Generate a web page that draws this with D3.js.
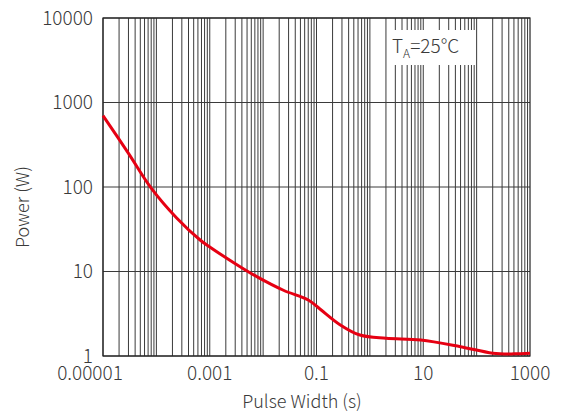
<!DOCTYPE html>
<html>
<head>
<meta charset="utf-8">
<script src="https://cdn.jsdelivr.net/npm/d3@7"></script>
<style>
  body { margin: 0; background: #fff; }
  svg text { font-family: "Noto Sans CJK SC", "Noto Sans", sans-serif; font-weight: 300; fill: #3a3a3a; }
</style>
</head>
<body>
<svg width="569" height="416"></svg>
<script>
// pulse width (s) vs peak power (W)
var pulseWidth = [1e-5, 3e-5, 8e-5, 2.4e-4, 6.6e-4, 1e-3, 3.7e-3, 7.6e-3, 0.024, 0.07, 0.116, 0.275, 0.65, 2, 9, 50, 200, 500, 1000];
var power = [700, 250, 97, 43, 23.6, 19.5, 11.4, 8.7, 6.0, 4.6, 3.6, 2.35, 1.77, 1.62, 1.55, 1.29, 1.08, 1.06, 1.08];

var xTicks = [1e-5, 1e-3, 1e-1, 10, 1000];
var xTickLabels = ["0.00001", "0.001", "0.1", "10", "1000"];
var yTicks = [1, 10, 100, 1000, 10000];
var yTickLabels = ["1", "10", "100", "1000", "10000"];

var svg = d3.select("svg");

var plotL = 103, plotR = 530, plotT = 18, plotB = 356;

var x = d3.scaleLog().domain([1e-5, 1000]).range([plotL, plotR]);
var y = d3.scaleLog().domain([1, 10000]).range([plotB, plotT]);

//  vertical grid at every 1..9 step of each decade
var minor = [];
for (var e = -5; e < 3; e++) {
  for (var m = 1; m < 10; m++) minor.push(m * Math.pow(10, e));
}

var grid = svg.append("g").attr("stroke", "#3a3a3a").attr("stroke-width", 1);

grid.selectAll("line.v").data(minor).enter().append("line")
  .attr("class", "v")
  .attr("x1", function (d) { return x(d); })
  .attr("x2", function (d) { return x(d); })
  .attr("y1", plotT)
  .attr("y2", plotB);

grid.selectAll("line.h").data(yTicks).enter().append("line")
  .attr("class", "h")
  .attr("x1", plotL)
  .attr("x2", plotR)
  .attr("y1", function (d) { return y(d); })
  .attr("y2", function (d) { return y(d); });

svg.append("rect")
  .attr("x", plotL).attr("y", plotT)
  .attr("width", plotR - plotL).attr("height", plotB - plotT)
  .attr("fill", "none").attr("stroke", "#222").attr("stroke-width", 1.2);

//  legend note box (white, covers grid)
svg.append("rect")
  .attr("x", 388).attr("y", 30)
  .attr("width", 88).attr("height", 35)
  .attr("fill", "#fff");

var note = svg.append("text").attr("x", 392).attr("y", 53).attr("font-size", 19);
note.append("tspan").text("T");
note.append("tspan").attr("font-size", 12).attr("dy", 5).text("A");
note.append("tspan").attr("dy", -5).text("=25°C");

//  curve
var line = d3.line()
  .x(function (d) { return x(d[0]); })
  .y(function (d) { return y(d[1]); })
  .curve(d3.curveCatmullRom.alpha(0.5));

svg.append("path")
  .datum(d3.zip(pulseWidth, power))
  .attr("d", line)
  .attr("fill", "none")
  .attr("stroke", "#e60012")
  .attr("stroke-width", 3)
  .attr("stroke-linejoin", "round");

//  tick labels
svg.selectAll("text.xl").data(xTicks).enter().append("text")
  .attr("class", "xl")
  .attr("x", function (d, i) { return x(d) + (i === 0 ? -13 : 0); })
  .attr("y", 380)
  .attr("text-anchor", "middle")
  .attr("font-size", 19)
  .text(function (d, i) { return xTickLabels[i]; });

svg.selectAll("text.yl").data(yTicks).enter().append("text")
  .attr("class", "yl")
  .attr("x", 93)
  .attr("y", function (d) { return y(d); })
  .attr("dy", "0.36em")
  .attr("text-anchor", "end")
  .attr("font-size", 19)
  .text(function (d, i) { return yTickLabels[i]; });

//  axis titles
svg.append("text")
  .attr("x", 302).attr("y", 408)
  .attr("text-anchor", "middle")
  .attr("font-size", 18)
  .text("Pulse Width (s)");

svg.append("text")
  .attr("transform", "translate(29,207) rotate(-90)")
  .attr("text-anchor", "middle")
  .attr("font-size", 18)
  .text("Power (W)");
</script>
</body>
</html>
